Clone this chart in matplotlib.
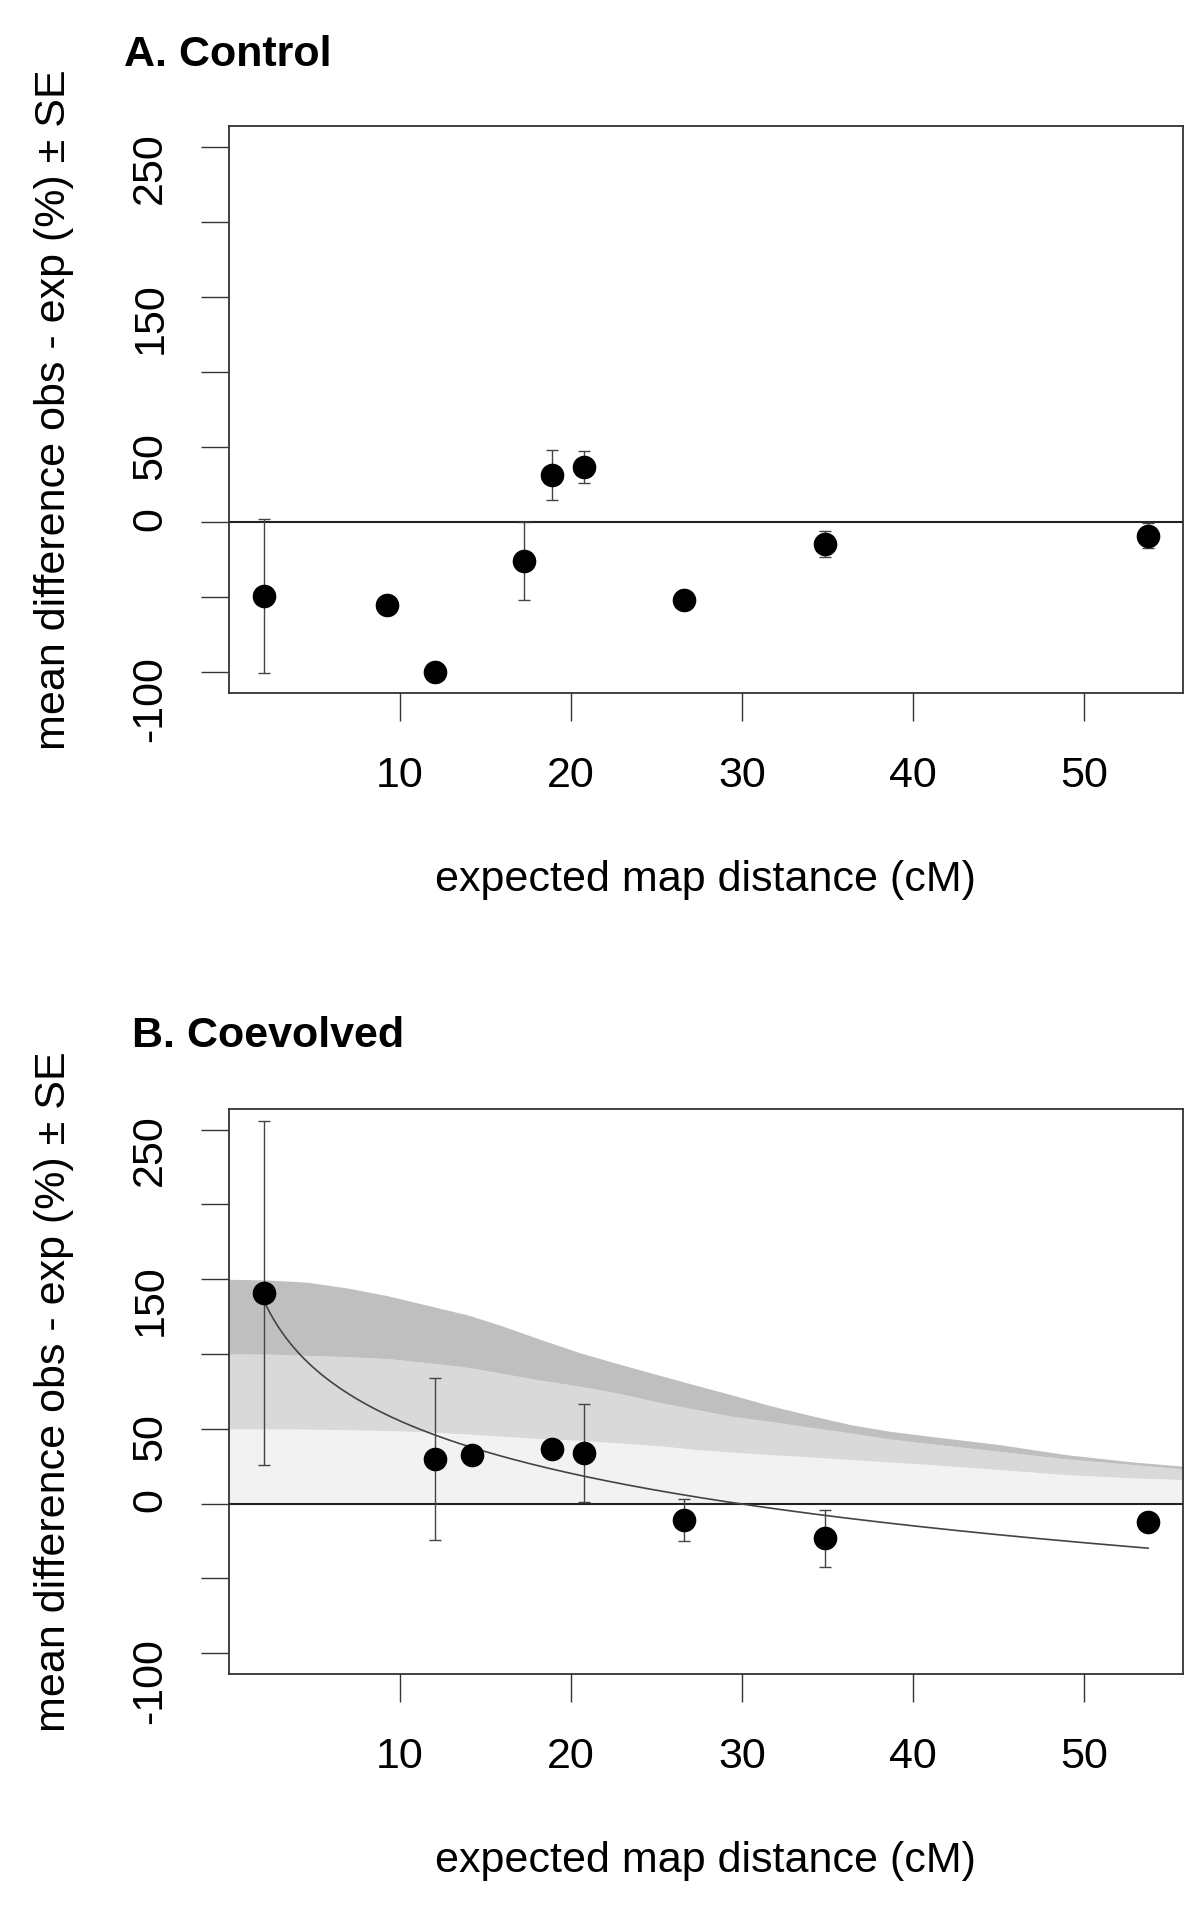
import matplotlib.pyplot as plt
import numpy as np

plt.rcParams['font.family'] = ['Liberation Sans', 'DejaVu Sans']

# A. Control - expected map distance (cM), mean diff obs-exp (%), SE
ctrl_x = [2.07, 9.26, 12.05, 17.26, 18.86, 20.73, 26.61, 34.84, 53.72]
ctrl_y = [-49.2, -55.3, -100.0, -25.9, 31.5, 36.8, -51.9, -14.8, -9.0]
ctrl_se = [51.2, 0, 0, 25.8, 16.6, 10.6, 0, 8.6, 8.3]

# B. Coevolved
coev_x = [2.07, 12.05, 14.19, 18.86, 20.73, 26.61, 34.84, 53.72]
coev_y = [140.9, 29.9, 32.8, 36.8, 33.9, -10.8, -23.3, -12.2]
coev_se = [115.0, 54.0, 0, 0, 32.7, 14.0, 19.2, 0]

# shaded expectation bands
band_x = [0, 2.3, 4.6, 7.0, 9.3, 11.6, 14.0, 16.0, 18.2, 20.5, 22.9, 25.2,
          27.5, 29.3, 31.6, 34.0, 36.3, 38.6, 41.0, 45.0, 48.9, 52.8, 55.8]
band_light = [50, 50, 49.8, 49.4, 48.8, 48.0, 46.5, 45.0, 43.5, 42.3, 40.5, 38.6,
              36.0, 34.5, 32.8, 31.2, 29.5, 27.8, 26.1, 22.8, 19.4, 17.2, 16.1]
band_mid = [100, 99.9, 99.1, 98.2, 96.9, 94.2, 91.0, 87.0, 82.5, 78.5, 73.5, 67.5,
            62.5, 58.5, 55.0, 51.0, 47.3, 43.2, 40.0, 35.0, 29.9, 26.1, 23.2]
band_dark = [150, 149.5, 148, 144, 138.9, 132.6, 126, 118.7, 109.8, 100.9, 93.0, 85.7,
             78.5, 73.0, 65.6, 58.9, 52.9, 48.4, 45.0, 39.5, 32.8, 27.9, 25.0]

y_ticks = [-100, -50, 0, 50, 100, 150, 200, 250]
y_ticklabels = ['-100', '', '0', '50', '', '150', '', '250']
x_ticks = [10, 20, 30, 40, 50]

FS = 31
EDGE = '#333333'


def draw_points(ax, x, y, se):
    x = np.array(x)
    y = np.array(y)
    se = np.array(se)
    has_se = se > 0
    ax.errorbar(x[has_se], y[has_se], yerr=se[has_se], fmt='none',
                ecolor='#444444', elinewidth=1.0, capsize=4, capthick=1.0, zorder=4)
    ax.plot(x, y, 'o', color='black', ms=16, zorder=5)


def style_axes(ax):
    ax.axhline(0, color='#222222', lw=1.5, zorder=3)
    ax.set_xlim(-0.02, 55.76)
    ax.set_ylim(-114, 264)
    ax.set_xticks(x_ticks)
    ax.set_yticks(y_ticks)
    ax.set_yticklabels(y_ticklabels)
    for s in ax.spines.values():
        s.set_color(EDGE)
        s.set_linewidth(1.3)
    ax.tick_params(direction='out', length=20, width=1.0, color=EDGE, labelsize=FS)
    ax.tick_params(axis='y', labelrotation=90, pad=22)
    ax.tick_params(axis='x', pad=25)
    ax.set_xlabel('expected map distance (cM)', fontsize=FS)
    ax.xaxis.set_label_coords(0.5, -0.330)
    ax.xaxis.label.set_va('center')
    ax.set_ylabel('mean difference obs - exp (%) \u00b1 SE', fontsize=FS)
    ax.yaxis.set_label_coords(-0.183, 0.5)
    ax.yaxis.label.set_va('center')


fig = plt.figure(figsize=(12, 19.07), dpi=100)
ax_a = fig.add_axes([0.1905, 0.6366, 0.7953, 0.2971])
ax_b = fig.add_axes([0.1905, 0.1221, 0.7953, 0.2965])

# panel A
style_axes(ax_a)
draw_points(ax_a, ctrl_x, ctrl_y, ctrl_se)

# panel B
style_axes(ax_b)
ax_b.fill_between(band_x, 0, band_light, color='#f2f2f2', lw=0, zorder=1)
ax_b.fill_between(band_x, band_light, band_mid, color='#d9d9d9', lw=0, zorder=1)
ax_b.fill_between(band_x, band_mid, band_dark, color='#bfbfbf', lw=0, zorder=1)

# log fit through the coevolved means
b, a = np.polyfit(np.log(coev_x), coev_y, 1)
fit_x = np.linspace(min(coev_x), max(coev_x), 200)
ax_b.plot(fit_x, a + b * np.log(fit_x), color='#444444', lw=1.2, zorder=4)
draw_points(ax_b, coev_x, coev_y, coev_se)

fig.text(124 / 1200, 1 - 55 / 1907, 'A. Control', fontsize=FS, fontweight='bold',
         ha='left', va='center')
fig.text(132 / 1200, 1 - 1036 / 1907, 'B. Coevolved', fontsize=FS, fontweight='bold',
         ha='left', va='center')

fig.savefig('out.png', dpi=100)
